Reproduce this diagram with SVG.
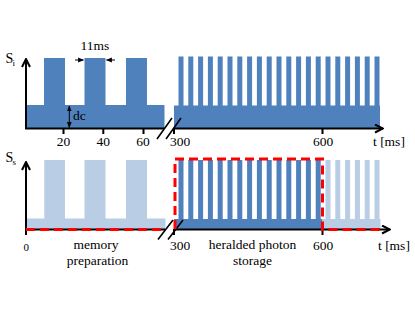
<svg xmlns="http://www.w3.org/2000/svg" width="415" height="312" viewBox="0 0 415 312" font-family="'Liberation Serif', serif">
  <style>
    .dark { fill: #4F81BD; }
    .light { fill: #B9CDE5; }
    .axis { stroke: #000; stroke-width: 2; fill: none; }
    .tick { stroke: #000; stroke-width: 2; }
    .brk { stroke: #000; stroke-width: 1.6; }
    .thin { stroke: #000; stroke-width: 1; fill: none; }
    .red { stroke: #FF0000; stroke-width: 3; fill: none; stroke-dasharray: 9 5; }
    text { font-family: 'Liberation Serif', serif; font-size: 13.5px; fill: #000; }
    .mid { text-anchor: middle; }
  </style>
  <defs>
    <marker id="ah" viewBox="0 0 10 10" refX="9" refY="5" markerWidth="5" markerHeight="5" orient="auto" markerUnits="strokeWidth">
      <path d="M1,1 L9,5 L1,9" fill="none" stroke="#000" stroke-width="2"/>
    </marker>
    <marker id="sh" viewBox="0 0 10 10" refX="9" refY="5" markerWidth="6" markerHeight="6" orient="auto" markerUnits="strokeWidth">
      <path d="M0,1 L10,5 L0,9 Z" fill="#000"/>
    </marker>
    <marker id="shs" viewBox="0 0 10 10" refX="1" refY="5" markerWidth="6" markerHeight="6" orient="auto" markerUnits="strokeWidth">
      <path d="M10,1 L0,5 L10,9 Z" fill="#000"/>
    </marker>
  </defs>

  <g id="top-panel">
    <path class="dark" d="M26,128 V105 H44 V58 H65 V105 H84.5 V58 H105.5 V105 H126 V58 H147 V105 H164.5 V128 Z"/>
    <path class="dark" d="M174,128 V105.5 H380 V128 Z
      M178.5,106 V56.5 h5 V106 Z M188.3,106 V56.5 h5 V106 Z M198.1,106 V56.5 h5 V106 Z M207.9,106 V56.5 h5 V106 Z
      M217.7,106 V56.5 h5 V106 Z M227.5,106 V56.5 h5 V106 Z M237.3,106 V56.5 h5 V106 Z M247.1,106 V56.5 h5 V106 Z
      M256.9,106 V56.5 h5 V106 Z M266.7,106 V56.5 h5 V106 Z M276.5,106 V56.5 h5 V106 Z M286.3,106 V56.5 h5 V106 Z
      M296.1,106 V56.5 h5 V106 Z M305.9,106 V56.5 h5 V106 Z M315.7,106 V56.5 h5 V106 Z M325.5,106 V56.5 h5 V106 Z
      M335.3,106 V56.5 h5 V106 Z M345.1,106 V56.5 h5 V106 Z M354.9,106 V56.5 h5 V106 Z M364.7,106 V56.5 h5 V106 Z
      M374.5,106 V56.5 h5 V106 Z"/>
    <g id="top-axes">
      <path class="axis" d="M26,128.5 V59" marker-end="url(#ah)"/>
      <path class="axis" d="M25,128.5 H164"/>
      <path class="axis" d="M174,128.5 H383" marker-end="url(#ah)"/>
      <path class="tick" d="M63.5,128 V134 M103.3,128 V134 M143.5,128 V134 M174,128 V134 M322.5,128 V134"/>
      <path class="brk" d="M157,139 L172,118 M166,139 L181,118"/>
    </g>
    <g id="top-annotations">
      <path class="thin" d="M69.3,106 V127.5" marker-start="url(#shs)" marker-end="url(#sh)"/>
      <path class="thin" d="M75,60 H83.5" marker-end="url(#sh)"/>
      <path class="thin" d="M115,60 H106.5" marker-end="url(#sh)"/>
      <text x="95" y="50" class="mid">11ms</text>
      <text x="73" y="120">dc</text>
      <text x="5.5" y="63" style="font-size:14px">S</text>
      <text x="12.5" y="66" style="font-size:9px">i</text>
    </g>
    <g id="top-labels">
      <text x="63.5" y="146" class="mid">20</text>
      <text x="103.3" y="146" class="mid">40</text>
      <text x="143" y="146" class="mid">60</text>
      <text x="170" y="146">300</text>
      <text x="323" y="146" class="mid">600</text>
      <text x="373" y="146">t [ms]</text>
    </g>
  </g>

  <g id="bottom-panel">
    <path class="light" d="M26,229 V218.5 H44.3 V160 H65 V218.5 H84.5 V160 H105.5 V218.5 H126 V160 H147 V218.5 H165.5 V229 Z"/>
    <path class="dark" d="M174,229 V219 H322 V229 Z
      M178.5,220 V160 h5 V220 Z M188.3,220 V160 h5 V220 Z M198.1,220 V160 h5 V220 Z M207.9,220 V160 h5 V220 Z
      M217.7,220 V160 h5 V220 Z M227.5,220 V160 h5 V220 Z M237.3,220 V160 h5 V220 Z M247.1,220 V160 h5 V220 Z
      M256.9,220 V160 h5 V220 Z M266.7,220 V160 h5 V220 Z M276.5,220 V160 h5 V220 Z M286.3,220 V160 h5 V220 Z
      M296.1,220 V160 h5 V220 Z M305.9,220 V160 h5 V220 Z M315.7,220 V160 h5 V220 Z"/>
    <path class="light" d="M322,229 V219 H380.5 V229 Z
      M325.5,220 V160 h5 V220 Z M335.3,220 V160 h5 V220 Z M345.1,220 V160 h5 V220 Z
      M354.9,220 V160 h5 V220 Z M364.7,220 V160 h5 V220 Z M374.5,220 V160 h5 V220 Z"/>
    <g id="bottom-axes">
      <path class="axis" d="M26,229.5 V162" marker-end="url(#ah)"/>
      <path class="axis" d="M25,229.5 H165"/>
      <path class="axis" d="M174,229.5 H390" marker-end="url(#ah)"/>
      <path class="tick" d="M26,229 V235 M174,229 V235 M322.5,229 V235"/>
      <path class="brk" d="M158,239.5 L173,220 M168,239.5 L183,220"/>
    </g>
    <g id="highlight">
      <path class="red" d="M26,229.5 H164"/>
      <path class="red" d="M175,229 V159 H322.5 V229.5 H381"/>
    </g>
    <g id="bottom-labels">
      <text x="5.5" y="161.5" style="font-size:14px">S</text>
      <text x="12.5" y="165" style="font-size:9px">s</text>
      <text x="26.3" y="250.5" class="mid" style="font-size:11px">0</text>
      <text x="170" y="250">300</text>
      <text x="323" y="250" class="mid">600</text>
      <text x="378" y="250">t [ms]</text>
      <text x="96" y="248.5" class="mid">memory</text>
      <text x="97.5" y="264.5" class="mid">preparation</text>
      <text x="252.5" y="248.5" class="mid">heralded photon</text>
      <text x="252.5" y="264.5" class="mid">storage</text>
    </g>
  </g>
</svg>
